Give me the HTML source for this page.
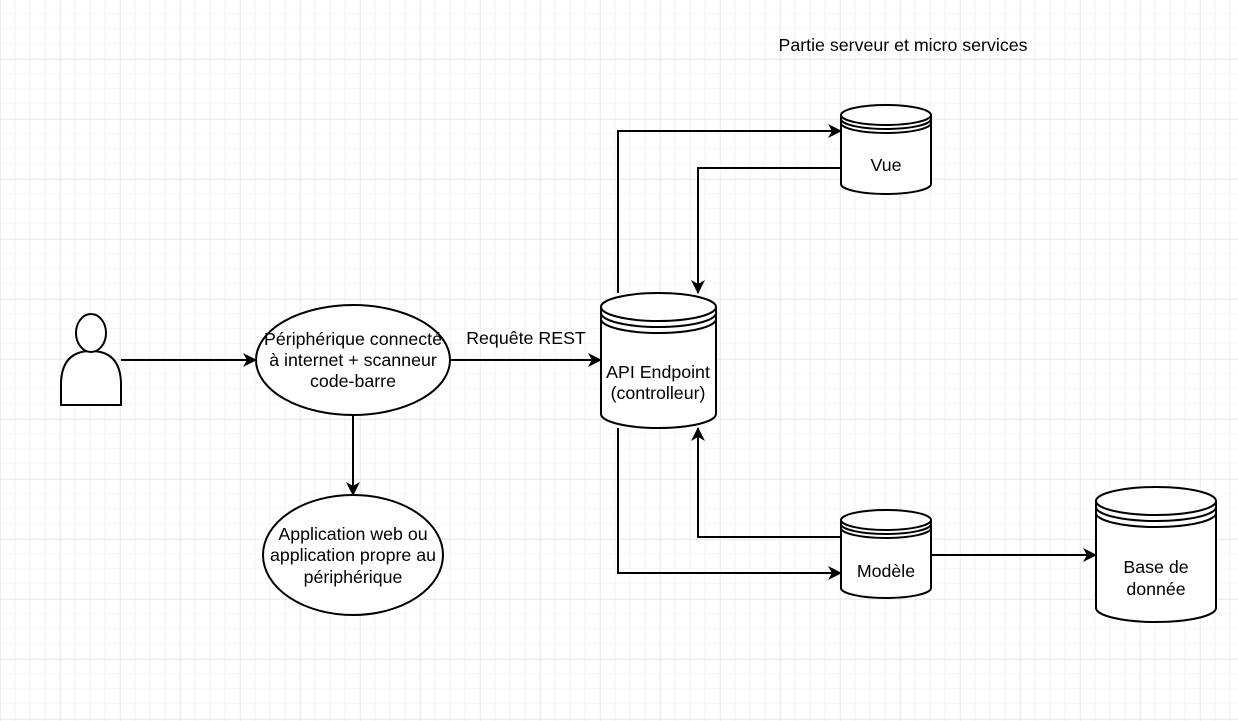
<!DOCTYPE html>
<html><head><meta charset="utf-8"><style>
html,body{margin:0;padding:0;background:#fff}
svg{display:block}
text{font-family:"Liberation Sans",sans-serif;font-size:17.8px;fill:#000}
</style></head><body>
<svg width="1238" height="721" viewBox="0 0 1238 721" xmlns="http://www.w3.org/2000/svg">
<defs>
<pattern id="minor" width="15" height="15" patternUnits="userSpaceOnUse" x="0.5" y="-1">
<path d="M15 0V15M0 15H15" stroke="#f1f1f1" stroke-width="1" fill="none" transform="translate(-0.5,0)"/>
</pattern>
<pattern id="major" width="60" height="60" patternUnits="userSpaceOnUse" x="0.5" y="-0.5">
<path d="M60 0V60M0 60H60" stroke="#dcdcdc" stroke-width="1" fill="none"/>
</pattern>
<marker id="ar" viewBox="0 0 14 14" refX="13" refY="7" markerWidth="14" markerHeight="14" markerUnits="userSpaceOnUse" orient="auto">
<path d="M0,0 L14,7 L0,14 L4,7 Z" fill="#000"/>
</marker>
</defs>
<rect width="1238" height="721" fill="url(#minor)"/>
<rect width="1238" height="721" fill="url(#major)"/>

<g stroke="#000" stroke-width="2" fill="none">
<path d="M121 360H256" marker-end="url(#ar)"/>
<path d="M450 360H601" marker-end="url(#ar)"/>
<path d="M353 415V495" marker-end="url(#ar)"/>
<path d="M618 293V131H841" marker-end="url(#ar)"/>
<path d="M841 168H698V293" marker-end="url(#ar)"/>
<path d="M841 537H698V428" marker-end="url(#ar)"/>
<path d="M618 428V573H841" marker-end="url(#ar)"/>
<path d="M931 555H1096" marker-end="url(#ar)"/>
</g>

<g stroke="#000" stroke-width="2" fill="#fff">
<path d="M61 405V385Q61 351 91 351Q121 351 121 385V405Z"/>
<ellipse cx="91" cy="333" rx="15" ry="19"/>
<ellipse cx="353" cy="360" rx="97" ry="55"/>
<ellipse cx="353" cy="555" rx="90" ry="60"/>
<path d="M601 307A57.5 14 0 0 1 716 307V414A57.5 14 0 0 1 601 414Z"/>
<path d="M601 307A57.5 14 0 0 0 716 307M601 313A57.5 14 0 0 0 716 313M601 319A57.5 14 0 0 0 716 319" fill="none"/>
<path d="M841 115A45 10 0 0 1 931 115V184A45 10 0 0 1 841 184Z"/>
<path d="M841 115A45 10 0 0 0 931 115M841 119A45 10 0 0 0 931 119M841 123A45 10 0 0 0 931 123" fill="none"/>
<path d="M841 520A45 10 0 0 1 931 520V588A45 10 0 0 1 841 588Z"/>
<path d="M841 520A45 10 0 0 0 931 520M841 524A45 10 0 0 0 931 524M841 528A45 10 0 0 0 931 528" fill="none"/>
<path d="M1096 501A60 14 0 0 1 1216 501V608A60 14 0 0 1 1096 608Z"/>
<path d="M1096 501A60 14 0 0 0 1216 501M1096 507A60 14 0 0 0 1216 507M1096 513A60 14 0 0 0 1216 513" fill="none"/>
</g>

<g text-anchor="middle">
<text x="903" y="51">Partie serveur et micro services</text>
<text x="526" y="344">Requête REST</text>
<text x="353" y="345">Périphérique connecté</text>
<text x="353" y="366">à internet + scanneur</text>
<text x="353" y="387">code-barre</text>
<text x="353" y="540">Application web ou</text>
<text x="353" y="561">application propre au</text>
<text x="353" y="583">périphérique</text>
<text x="658" y="378">API Endpoint</text>
<text x="658" y="399">(controlleur)</text>
<text x="886" y="171">Vue</text>
<text x="886" y="577">Modèle</text>
<text x="1156" y="573">Base de</text>
<text x="1156" y="595">donnée</text>
</g>
</svg>
</body></html>
